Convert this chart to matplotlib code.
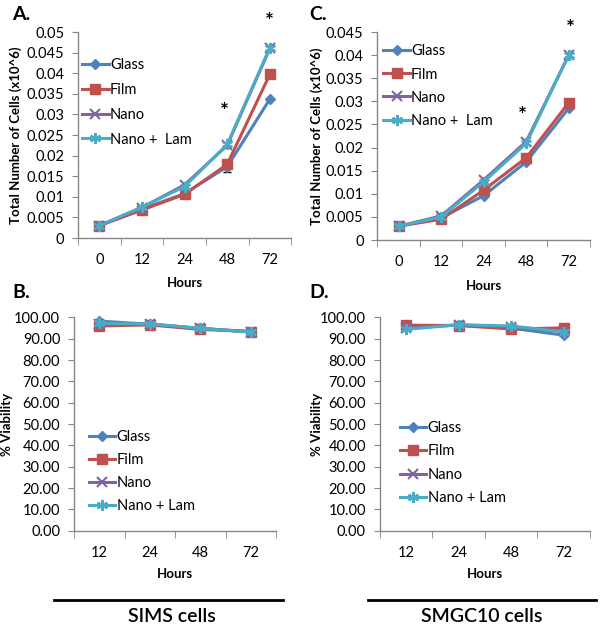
import numpy as np
import matplotlib
matplotlib.use('Agg')
import matplotlib.pyplot as plt
from matplotlib.ticker import FixedLocator, NullFormatter

plt.rcParams['font.family'] = ['Lato', 'DejaVu Sans']

# ---- data ----
hours_growth = ['0', '12', '24', '48', '72']
hours_via = ['12', '24', '48', '72']
series = ['Glass', 'Film', 'Nano', 'Nano + Lam']

# A: SIMS total cells (x10^6)
simsGlass = [0.003, 0.0070, 0.0108, 0.0173, 0.0337]
simsFilm = [0.003, 0.0068, 0.0106, 0.0179, 0.0397]
simsNano = [0.003, 0.0074, 0.0129, 0.0225, 0.0460]
simsNanoLam = [0.003, 0.0075, 0.0125, 0.0227, 0.0462]
simsGlassErr = [0, 0, 0, 0.0012, 0]

# C: SMGC10 total cells (x10^6)
smgGlass = [0.003, 0.0048, 0.0096, 0.0169, 0.0285]
smgFilm = [0.003, 0.0045, 0.0108, 0.0178, 0.0297]
smgNano = [0.003, 0.0052, 0.0130, 0.0213, 0.0400]
smgNanoLam = [0.003, 0.0050, 0.0126, 0.0209, 0.0400]

# B: SIMS viability (%)
simsViaGlass = [98.3, 96.8, 94.8, 93.3]
simsViaFilm = [96.0, 96.5, 94.4, 93.4]
simsViaNano = [97.0, 96.9, 94.9, 93.3]
simsViaNanoLam = [97.2, 97.0, 94.9, 93.1]

# D: SMGC10 viability (%)
smgViaGlass = [95.6, 96.4, 95.0, 91.7]
smgViaFilm = [96.4, 96.2, 94.6, 95.1]
smgViaNano = [95.0, 96.5, 95.6, 93.5]
smgViaNanoLam = [94.4, 96.6, 96.0, 93.3]

colors = ['#4F81BD', '#C0504D', '#8064A2', '#4BACC6']
markers = ['D', 's', 'x', (6, 2, 0)]
msizes = [5.5, 7.5, 7, 8]
axisGray = '#868686'


def excelAxes(ax, cats, ymax, ystep, yfmt):
    n = len(cats)
    ax.set_xlim(-0.5, n - 0.5)
    ax.set_ylim(0, ymax)
    for sp in ['top', 'right']:
        ax.spines[sp].set_visible(False)
    for sp in ['left', 'bottom']:
        ax.spines[sp].set_color(axisGray)
        ax.spines[sp].set_linewidth(1)
    ax.set_xticks(range(n))
    ax.set_xticklabels(cats)
    ax.xaxis.set_minor_locator(FixedLocator(np.arange(-0.5, n, 1.0)))
    ax.xaxis.set_minor_formatter(NullFormatter())
    ax.tick_params(axis='x', which='major', length=0, pad=11, labelsize=10.5)
    ax.tick_params(axis='x', which='minor', length=5, color=axisGray, direction='out')
    yt = np.arange(0, ymax + ystep / 2, ystep)
    ax.set_yticks(yt)
    ax.set_yticklabels([yfmt(v) for v in yt])
    ax.tick_params(axis='y', length=4, color=axisGray, direction='out', pad=6, labelsize=10.5)


def growthFmt(v):
    return ('%.3f' % v).rstrip('0').rstrip('.')


def viaFmt(v):
    return '%.2f' % v


def plotSeries(ax, data, labels, errs=None):
    x = np.arange(len(data[0]))
    for i, (y, lab) in enumerate(zip(data, labels)):
        if errs is not None and errs[i] is not None:
            ax.errorbar(x, y, yerr=errs[i], fmt='none', ecolor='black', elinewidth=1,
                        capsize=3, zorder=1.5)
        ax.plot(x, y, color=colors[i], marker=markers[i], markersize=msizes[i],
                markeredgewidth=1.5 if i >= 2 else 1, lw=2.2, label=lab, clip_on=False)


def addLegend(ax, anchor, spacing):
    ax.legend(loc='upper left', bbox_to_anchor=anchor, frameon=False, fontsize=10.5,
              handlelength=1.8, handletextpad=0.1, labelspacing=spacing,
              borderpad=0, borderaxespad=0)


fig = plt.figure(figsize=[6.02, 6.29], dpi=100)

# ---- A ----
axA = fig.add_axes([0.1296, 0.6216, 0.354, 0.3275])
excelAxes(axA, hours_growth, 0.05, 0.005, growthFmt)
plotSeries(axA, [simsGlass, simsFilm, simsNano, simsNanoLam],
           ['Glass', 'Film', 'Nano', 'Nano +  Lam'], [simsGlassErr, None, None, None])
axA.text(2.93, 0.0306, '*', fontsize=15, fontweight='bold', ha='center', va='center')
axA.text(3.98, 0.0524, '*', fontsize=15, fontweight='bold', ha='center', va='center', clip_on=False)
axA.set_ylabel('Total Number of Cells (x10^6)', fontsize=9.5, fontweight='bold')
axA.yaxis.set_label_coords(-0.263, 0.5)
axA.set_xlabel('Hours', fontsize=9.5, fontweight='bold')
axA.xaxis.set_label_coords(0.5, -0.19)
addLegend(axA, (0.02, 0.875), 0.75)

# ---- C ----
axC = fig.add_axes([0.627, 0.6184, 0.353, 0.3307])
excelAxes(axC, hours_growth, 0.045, 0.005, growthFmt)
plotSeries(axC, [smgGlass, smgFilm, smgNano, smgNanoLam],
           ['Glass', 'Film', 'Nano', 'Nano +  Lam'])
axC.text(2.9, 0.0268, '*', fontsize=15, fontweight='bold', ha='center', va='center')
axC.text(4.05, 0.0456, '*', fontsize=15, fontweight='bold', ha='center', va='center', clip_on=False)
axC.set_ylabel('Total Number of Cells (x10^6)', fontsize=9.5, fontweight='bold')
axC.yaxis.set_label_coords(-0.257, 0.5)
axC.set_xlabel('Hours', fontsize=9.5, fontweight='bold')
axC.xaxis.set_label_coords(0.5, -0.19)
addLegend(axC, (0.028, 0.94), 0.62)

# ---- B ----
axB = fig.add_axes([0.123, 0.1563, 0.3355, 0.339])
excelAxes(axB, hours_via, 100, 10, viaFmt)
plotSeries(axB, [simsViaGlass, simsViaFilm, simsViaNano, simsViaNanoLam], series)
axB.set_ylabel('% Viability', fontsize=9.5, fontweight='bold')
axB.yaxis.set_label_coords(-0.303, 0.5)
axB.set_xlabel('Hours', fontsize=9.5, fontweight='bold')
axB.xaxis.set_label_coords(0.5, -0.176)
addLegend(axB, (0.074, 0.47), 0.6)

# ---- D ----
axD = fig.add_axes([0.631, 0.1563, 0.349, 0.339])
excelAxes(axD, hours_via, 100, 10, viaFmt)
plotSeries(axD, [smgViaGlass, smgViaFilm, smgViaNano, smgViaNanoLam], series)
axD.set_ylabel('% Viability', fontsize=9.5, fontweight='bold')
axD.yaxis.set_label_coords(-0.273, 0.5)
axD.set_xlabel('Hours', fontsize=9.5, fontweight='bold')
axD.xaxis.set_label_coords(0.5, -0.176)
addLegend(axD, (0.095, 0.515), 0.65)

# panel letters
fig.text(12 / 602, 1 - 14 / 629, 'A.', fontsize=14, fontweight='bold', va='center')
fig.text(12 / 602, 1 - 293 / 629, 'B.', fontsize=14, fontweight='bold', va='center')
fig.text(309 / 602, 1 - 15 / 629, 'C.', fontsize=14, fontweight='bold', va='center')
fig.text(309 / 602, 1 - 293 / 629, 'D.', fontsize=14, fontweight='bold', va='center')

# bottom group labels
fig.add_artist(plt.Line2D([54 / 602, 283 / 602], [1 - 600 / 629] * 2, color='black', lw=2))
fig.add_artist(plt.Line2D([368 / 602, 596 / 602], [1 - 600 / 629] * 2, color='black', lw=2))
fig.text(172 / 602, 1 - 617 / 629, 'SIMS cells', fontsize=14, fontweight='semibold',
         ha='center', va='center')
fig.text(482 / 602, 1 - 617 / 629, 'SMGC10 cells', fontsize=14, fontweight='semibold',
         ha='center', va='center')

fig.savefig('out.png', dpi=100)
